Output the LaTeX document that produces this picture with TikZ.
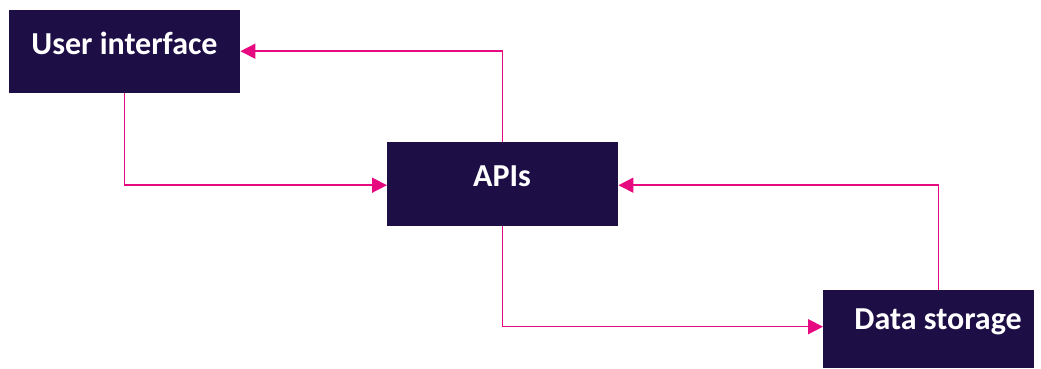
\documentclass[tikz,border=0pt]{standalone}
\usepackage{fontspec}
\setmainfont{Carlito}
\usetikzlibrary{arrows.meta}
\definecolor{boxfill}{HTML}{1E0E46}
\definecolor{linkpink}{HTML}{E6097F}
\begin{document}
\begin{tikzpicture}[x=1pt,y=-1pt,
  blk/.style={fill=boxfill, draw=none, inner sep=0pt, anchor=north west},
  lbl/.style={text=white, font=\fontsize{32}{38}\selectfont\bfseries, inner sep=0pt},
  link/.style={draw=linkpink, line width=1.5pt,
    -{Triangle[length=15pt,width=15pt]}}]
\useasboundingbox (0,0) rectangle (1041,368);
% boxes
\node[blk, minimum width=231pt, minimum height=83pt] (ui) at (9,10) {};
\node[blk, minimum width=231pt, minimum height=84pt] (api) at (387,142) {};
\node[blk, minimum width=211pt, minimum height=78pt] (ds) at (823,290) {};
% labels
\node[lbl] (uit) at (124.5,43) {User interface};
\node[lbl] (apit) at (502,176) {APIs};
\node[lbl] (dst) at (938,322) {Data storage};
% connectors
\draw[link] (api.north) |- ([yshift=0.5pt]ui.east);
\draw[link] (ui.south) |- ([yshift=-1pt]api.west);
\draw[link] ([xshift=10pt]ds.north) |- ([yshift=-1pt]api.east);
\draw[link] (api.south) |- ([yshift=2.5pt]ds.west);
\end{tikzpicture}
\end{document}
